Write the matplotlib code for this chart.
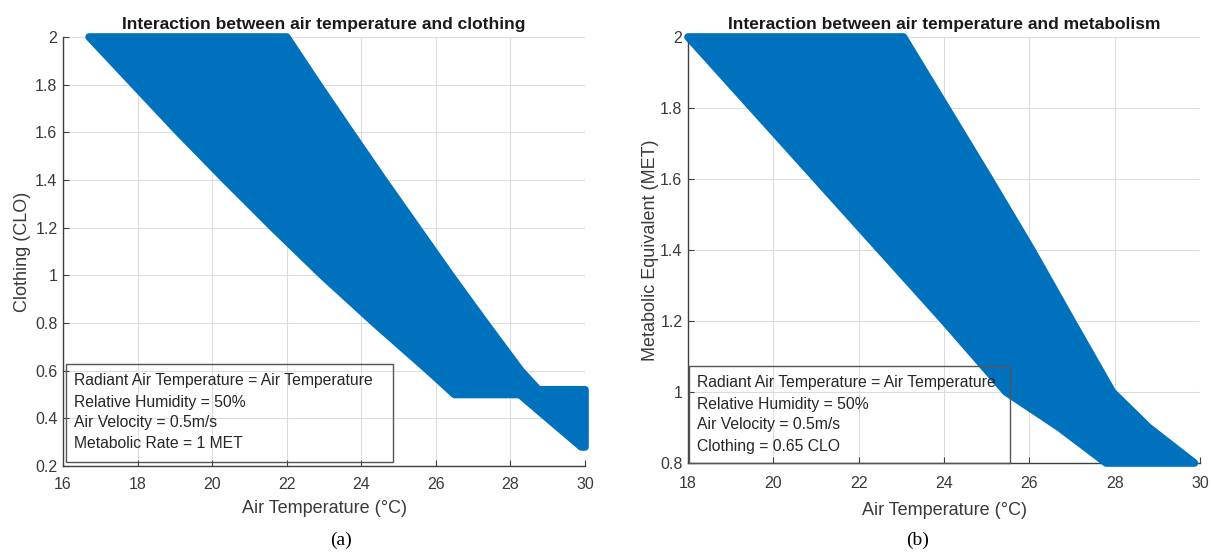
import matplotlib
matplotlib.use("Agg")
import matplotlib.pyplot as plt
from matplotlib.patches import Rectangle

plt.rcParams['font.family'] = ['Liberation Sans', 'DejaVu Sans']

# ---- (a) comfort zone: clothing vs air temperature ----
clo_cold_level = [2.0, 1.8, 1.6, 1.4, 1.2, 1.0, 0.8, 0.6, 0.5]
clo_cold_temp = [16.7, 17.9, 19.1, 20.35, 21.63, 22.95, 24.35, 25.8, 26.5]
clo_warm_level = [2.0, 1.8, 1.6, 1.4, 1.2, 1.0, 0.8, 0.6, 0.52]
clo_warm_temp = [22.0, 22.85, 23.72, 24.6, 25.5, 26.4, 27.33, 28.28, 28.75]
# low-clothing tail between 0.28 and 0.52 CLO
clo_tail_level = [0.5, 0.28, 0.28, 0.52]
clo_tail_temp = [28.25, 29.9, 30.0, 30.0]

# ---- (b) comfort zone: metabolic rate vs air temperature ----
met_level = [2.0, 1.8, 1.6, 1.4, 1.2, 1.0, 0.9, 0.8]
met_cold_temp = [18.0, 19.5, 21.0, 22.5, 24.0, 25.45, 26.7, 27.8]
met_warm_temp = [23.05, 24.06, 25.07, 26.06, 27.0, 27.95, 28.8, 29.87]

xticks_a = [16, 18, 20, 22, 24, 26, 28, 30]
yticks_a = [0.2, 0.4, 0.6, 0.8, 1.0, 1.2, 1.4, 1.6, 1.8, 2.0]
xticks_b = [18, 20, 22, 24, 26, 28, 30]
yticks_b = [0.8, 1.0, 1.2, 1.4, 1.6, 1.8, 2.0]

notes_a = ["Radiant Air Temperature = Air Temperature",
           "Relative Humidity = 50%",
           "Air Velocity = 0.5m/s",
           "Metabolic Rate = 1 MET"]
notes_b = ["Radiant Air Temperature = Air Temperature",
           "Relative Humidity = 50%",
           "Air Velocity = 0.5m/s",
           "Clothing = 0.65 CLO"]

BLUE = "#0072BD"
W, H = 1212, 552

fig = plt.figure(figsize=(W / 100, H / 100), dpi=100)


def px_axes(x0, x1, ytop, ybot):
    return fig.add_axes([x0 / W, 1 - ybot / H, (x1 - x0) / W, (ybot - ytop) / H])


def style(ax, xlim, ylim, xt, yt, title, xlabel, ylabel, ylabelpad):
    ax.set_xlim(*xlim)
    ax.set_ylim(*ylim)
    ax.set_xticks(xt)
    ax.set_yticks(yt)
    ax.set_xticklabels([f"{v:g}" for v in xt])
    ax.set_yticklabels([f"{v:g}" for v in yt])
    for s in ("top", "right"):
        ax.spines[s].set_visible(False)
    for s in ("left", "bottom"):
        ax.spines[s].set_color("#404040")
        ax.spines[s].set_linewidth(1.0)
    ax.tick_params(direction="in", length=4, width=0.8, color="#404040",
                   labelsize=11.5, labelcolor="#3a3a3a")
    ax.tick_params(axis="x", pad=8)
    ax.tick_params(axis="y", pad=4)
    ax.grid(True, color="#dcdcdc", linewidth=0.8)
    ax.set_axisbelow(True)
    ax.set_title(title, fontsize=12.5, fontweight="bold", color="#1a1a1a", pad=6)
    ax.set_xlabel(xlabel, fontsize=13, color="#3a3a3a", labelpad=6)
    ax.set_ylabel(ylabel, fontsize=13, color="#3a3a3a", labelpad=ylabelpad)


def note_box(x0, x1, ytop, ybot, tx, ty, lines):
    fig.patches.append(Rectangle((x0 / W, 1 - ybot / H), (x1 - x0) / W, (ybot - ytop) / H,
                                 transform=fig.transFigure, facecolor="none",
                                 edgecolor="#555555", linewidth=1.0, zorder=5))
    for i, line in enumerate(lines):
        fig.text(tx / W, 1 - (ty + 21 * i) / H, line, fontsize=11.3, color="#262626",
                 va="center", ha="left", zorder=6)


# panel (a)
ax1 = px_axes(63, 585, 37, 466)
style(ax1, (16, 30), (0.2, 2.0), xticks_a, yticks_a,
      "Interaction between air temperature and clothing",
      "Air Temperature (°C)", "Clothing (CLO)", 3)
poly_x = clo_cold_temp + clo_tail_temp + clo_warm_temp[::-1]
poly_y = clo_cold_level + clo_tail_level + clo_warm_level[::-1]
ax1.fill(poly_x, poly_y, facecolor=BLUE, edgecolor=BLUE, linewidth=5.5,
         joinstyle="round", clip_on=False, zorder=3)

# panel (b)
ax2 = px_axes(688, 1200, 37, 463)
style(ax2, (18, 30), (0.8, 2.0), xticks_b, yticks_b,
      "Interaction between air temperature and metabolism",
      "Air Temperature (°C)", "Metabolic Equivalent (MET)", 1)
ax2.tick_params(axis="x", pad=9)
ax2.xaxis.labelpad = 8
poly_x = met_cold_temp + met_warm_temp[::-1]
poly_y = met_level + met_level[::-1]
ax2.fill(poly_x, poly_y, facecolor=BLUE, edgecolor=BLUE, linewidth=5.5,
         joinstyle="round", clip_on=False, zorder=3)

note_box(66, 393, 364, 462, 74, 381, notes_a)
note_box(689, 1010, 366, 463, 697, 383, notes_b)

fig.text(341 / W, 1 - 540 / H, "(a)", fontsize=14, family="Liberation Serif",
         ha="center", va="center", color="black")
fig.text(918 / W, 1 - 540 / H, "(b)", fontsize=14, family="Liberation Serif",
         ha="center", va="center", color="black")

fig.savefig("out.png", dpi=100, facecolor="white")
